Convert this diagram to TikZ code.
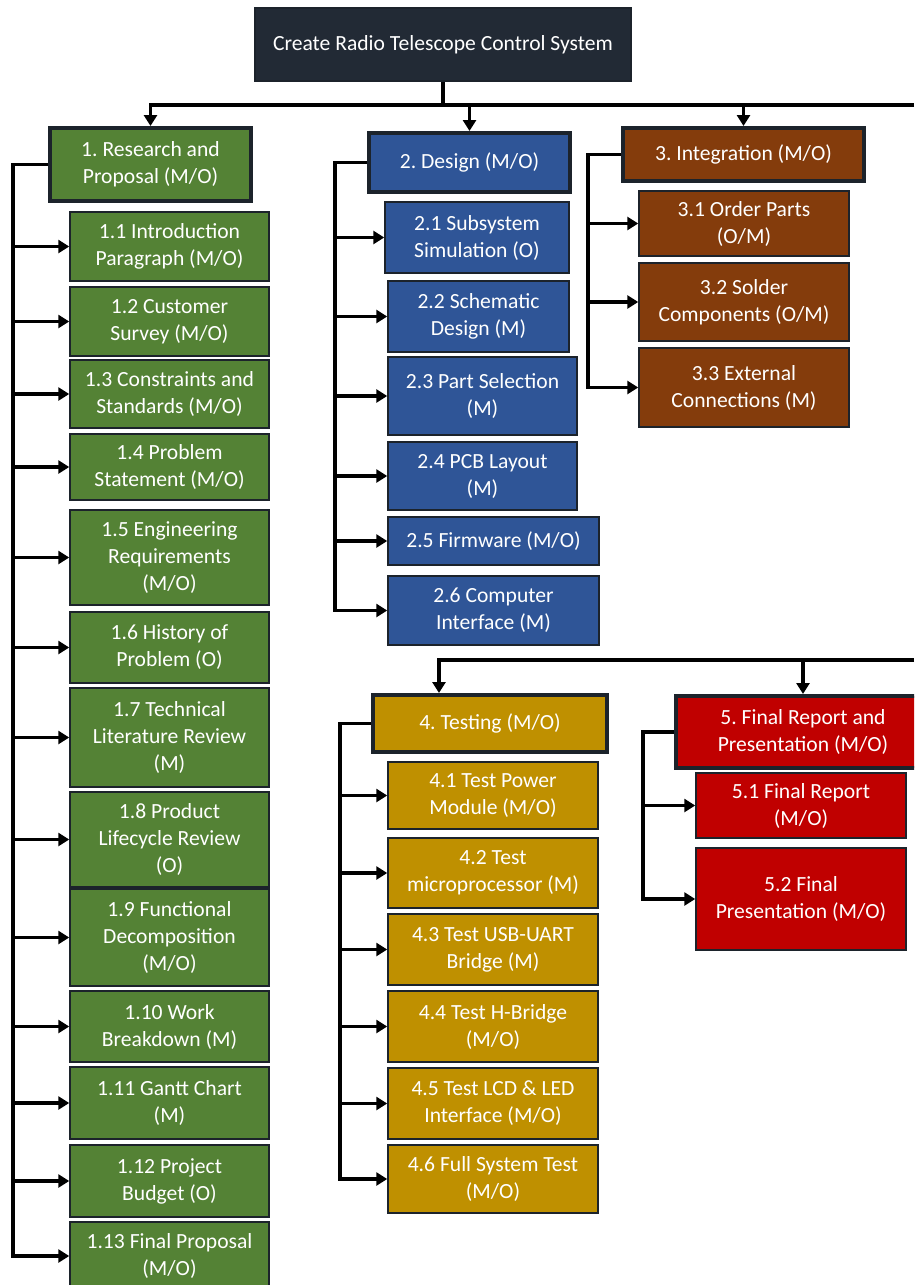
\documentclass[tikz,border=0pt]{standalone}
\usepackage{fontspec}
\setmainfont{Carlito}
\definecolor{rootnavy}{HTML}{222A35}
\definecolor{resgreen}{HTML}{548235}
\definecolor{desblue}{HTML}{2F5597}
\definecolor{intbrown}{HTML}{843C0C}
\definecolor{testgold}{HTML}{BF9000}
\definecolor{repred}{HTML}{C00000}
\definecolor{edgedark}{HTML}{1C232B}
\usepackage{tikz}
\usetikzlibrary{shapes, arrows.meta, positioning, calc}
\frenchspacing

\begin{document}
\begin{tikzpicture}[x=1pt, y=-1pt,
  box/.style={draw=edgedark, line width=1.5pt, text=white, align=center, inner sep=1pt, font=\fontsize{21.6}{27}\selectfont},
  head/.style={box, line width=4pt},
  wire/.style={line width=3.8pt},
  arr/.style={wire, -{Triangle[length=11pt, width=13pt]}}]
  \useasboundingbox (0,0) rectangle (914,1285);
  \clip (0,0) rectangle (914,1285);

  % top level
  \node[box, fill=rootnavy, minimum width=376, minimum height=73] (root) at (443,44.5) {Create Radio Telescope Control System};
  \node[head, fill=resgreen, minimum width=201, minimum height=73] (res) at (150.5,164.5) {1. Research and\\Proposal (M/O)};
  \node[head, fill=desblue, minimum width=201, minimum height=59] (des) at (469.5,162.5) {2. Design (M/O)};
  \node[head, fill=intbrown, minimum width=241, minimum height=53] (integ) at (743.5,154.5) {3. Integration (M/O)};
  \node[head, fill=testgold, minimum width=234, minimum height=57] (test) at (490,723.5) {4. Testing (M/O)};
  \node[head, fill=repred, minimum width=254, minimum height=72] (rep) at (803,732) {5. Final Report and\\Presentation (M/O)};

  % 1. research
  \node[box, fill=resgreen, minimum width=199, minimum height=69] (r1) at (169.5,246.5) {1.1 Introduction\\Paragraph (M/O)};
  \node[box, fill=resgreen, minimum width=199, minimum height=69] (r2) at (169.5,321.5) {1.2 Customer\\Survey (M/O)};
  \node[box, fill=resgreen, minimum width=199, minimum height=68] (r3) at (169.5,394) {1.3 Constraints and\\Standards (M/O)};
  \node[box, fill=resgreen, minimum width=199, minimum height=66] (r4) at (169.5,467) {1.4 Problem\\Statement (M/O)};
  \node[box, fill=resgreen, minimum width=199, minimum height=95] (r5) at (169.5,557.5) {1.5 Engineering\\Requirements\\(M/O)};
  \node[box, fill=resgreen, minimum width=199, minimum height=71] (r6) at (169.5,647.5) {1.6 History of\\Problem (O)};
  \node[box, fill=resgreen, minimum width=199, minimum height=99] (r7) at (169.5,737.5) {1.7 Technical\\Literature Review\\(M)};
  \node[box, fill=resgreen, minimum width=199, minimum height=95] (r8) at (169.5,839.5) {1.8 Product\\Lifecycle Review\\(O)};
  \node[box, fill=resgreen, minimum width=199, minimum height=97] (r9) at (169.5,937.5) {1.9 Functional\\Decomposition\\(M/O)};
  \node[box, fill=resgreen, minimum width=199, minimum height=71] (r10) at (169.5,1026.5) {1.10 Work\\Breakdown (M)};
  \node[box, fill=resgreen, minimum width=199, minimum height=72] (r11) at (169.5,1103) {1.11 Gantt Chart\\(M)};
  \node[box, fill=resgreen, minimum width=199, minimum height=72] (r12) at (169.5,1181) {1.12 Project\\Budget (O)};
  \node[box, fill=resgreen, minimum width=199, minimum height=68] (r13) at (169.5,1256) {1.13 Final Proposal\\(M/O)};

  % 2. design
  \node[box, fill=desblue, minimum width=184, minimum height=71] (d1) at (477,237.5) {2.1 Subsystem\\Simulation (O)};
  \node[box, fill=desblue, minimum width=181, minimum height=71] (d2) at (478.5,316.5) {2.2 Schematic\\Design (M)};
  \node[box, fill=desblue, minimum width=189, minimum height=78] (d3) at (482.5,396) {2.3 Part Selection\\(M)};
  \node[box, fill=desblue, minimum width=189, minimum height=68] (d4) at (482.5,476) {2.4 PCB Layout\\(M)};
  \node[box, fill=desblue, minimum width=211, minimum height=48] (d5) at (493.5,541) {2.5 Firmware (M/O)};
  \node[box, fill=desblue, minimum width=211, minimum height=69] (d6) at (493.5,610.5) {2.6 Computer\\Interface (M)};

  % 3. integration
  \node[box, fill=intbrown, minimum width=210, minimum height=65] (g1) at (744,223.5) {3.1 Order Parts\\(O/M)};
  \node[box, fill=intbrown, minimum width=210, minimum height=78] (g2) at (744,302) {3.2 Solder\\Components (O/M)};
  \node[box, fill=intbrown, minimum width=210, minimum height=79] (g3) at (744,387.5) {3.3 External\\Connections (M)};

  % 4. testing
  \node[box, fill=testgold, minimum width=210, minimum height=67] (t1) at (493,795.5) {4.1 Test Power\\Module (M/O)};
  \node[box, fill=testgold, minimum width=210, minimum height=70] (t2) at (493,873) {4.2 Test\\microprocessor (M)};
  \node[box, fill=testgold, minimum width=210, minimum height=71] (t3) at (493,949.5) {4.3 Test USB-UART\\Bridge (M)};
  \node[box, fill=testgold, minimum width=210, minimum height=71] (t4) at (493,1026.5) {4.4 Test H-Bridge\\(M/O)};
  \node[box, fill=testgold, minimum width=210, minimum height=71] (t5) at (493,1103.5) {4.5 Test LCD \& LED\\Interface (M/O)};
  \node[box, fill=testgold, minimum width=210, minimum height=68] (t6) at (493,1179) {4.6 Full System Test\\(M/O)};

  % 5. final report
  \node[box, fill=repred, minimum width=210, minimum height=65] (f1) at (801,805.5) {5.1 Final Report\\(M/O)};
  \node[box, fill=repred, minimum width=210, minimum height=102] (f2) at (801,899) {5.2 Final\\Presentation (M/O)};

  % buses and spines
  \coordinate (busA) at (914,105);
  \coordinate (busB) at (914,660);
  \coordinate (drop4) at (439,660);
  \coordinate (sp1) at (13,0);
  \coordinate (sp2) at (335,0);
  \coordinate (sp3) at (588,0);
  \coordinate (sp4) at (340,0);
  \coordinate (sp5) at (643,0);

  \draw[wire] (root.south) -- (root.south |- busA);
  \draw[arr] (busA) -| (res.north);
  \draw[arr] (des.north |- busA) -- (des.north);
  \draw[arr] (integ.north |- busA) -- (integ.north);
  \draw[arr] (busB) -| (drop4 |- test.north);
  \draw[arr] (rep.north |- busB) -- (rep.north);

  \draw[arr] (res.west) -| (sp1 |- r13.west) -- (r13.west);
  \draw[arr] (sp1 |- r1.west) -- (r1.west);
  \draw[arr] (sp1 |- r2.west) -- (r2.west);
  \draw[arr] (sp1 |- r3.west) -- (r3.west);
  \draw[arr] (sp1 |- r4.west) -- (r4.west);
  \draw[arr] (sp1 |- r5.west) -- (r5.west);
  \draw[arr] (sp1 |- r6.west) -- (r6.west);
  \draw[arr] (sp1 |- r7.west) -- (r7.west);
  \draw[arr] (sp1 |- r8.west) -- (r8.west);
  \draw[arr] (sp1 |- r9.west) -- (r9.west);
  \draw[arr] (sp1 |- r10.west) -- (r10.west);
  \draw[arr] (sp1 |- r11.west) -- (r11.west);
  \draw[arr] (sp1 |- r12.west) -- (r12.west);

  \draw[arr] (des.west) -| (sp2 |- d6.west) -- (d6.west);
  \draw[arr] (sp2 |- d1.west) -- (d1.west);
  \draw[arr] (sp2 |- d2.west) -- (d2.west);
  \draw[arr] (sp2 |- d3.west) -- (d3.west);
  \draw[arr] (sp2 |- d4.west) -- (d4.west);
  \draw[arr] (sp2 |- d5.west) -- (d5.west);

  \draw[arr] (integ.west) -| (sp3 |- g3.west) -- (g3.west);
  \draw[arr] (sp3 |- g1.west) -- (g1.west);
  \draw[arr] (sp3 |- g2.west) -- (g2.west);

  \draw[arr] (test.west) -| (sp4 |- t6.west) -- (t6.west);
  \draw[arr] (sp4 |- t1.west) -- (t1.west);
  \draw[arr] (sp4 |- t2.west) -- (t2.west);
  \draw[arr] (sp4 |- t3.west) -- (t3.west);
  \draw[arr] (sp4 |- t4.west) -- (t4.west);
  \draw[arr] (sp4 |- t5.west) -- (t5.west);

  \draw[arr] (rep.west) -| (sp5 |- f2.west) -- (f2.west);
  \draw[arr] (sp5 |- f1.west) -- (f1.west);
\end{tikzpicture}
\end{document}
